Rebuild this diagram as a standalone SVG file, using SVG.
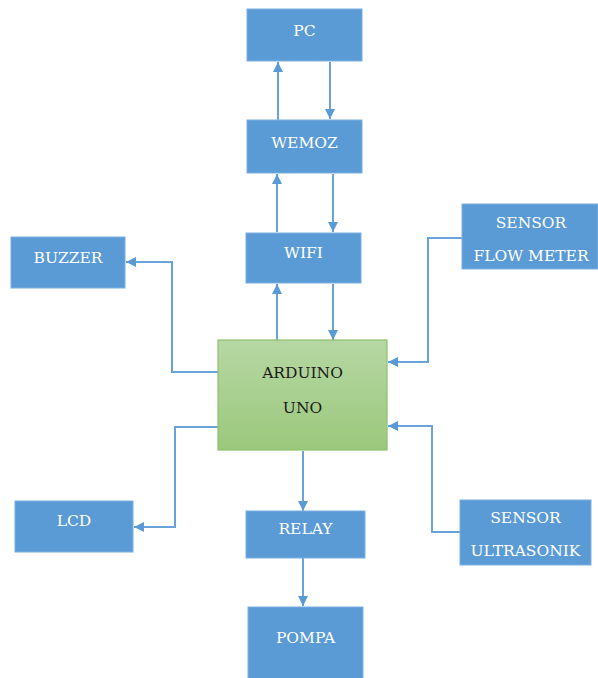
<svg xmlns="http://www.w3.org/2000/svg" width="598" height="678" viewBox="0 0 598 678">
<style>
.box{fill:#5b9bd5;stroke:#7aaee0;stroke-width:1}
text{font-family:'DejaVu Serif',serif;font-size:15.5px;text-anchor:middle}
.t{fill:#ffffff}
.tk{fill:#1a1a1a}
.c{fill:none;stroke:#6aa3da;stroke-width:2}
</style>
<defs>
<linearGradient id="g" x1="0" y1="0" x2="0" y2="1">
<stop offset="0" stop-color="#b6d7a3"/>
<stop offset="1" stop-color="#9bc87c"/>
</linearGradient>
<marker id="a" viewBox="0 0 10 10" refX="10" refY="5" markerWidth="5" markerHeight="5" markerUnits="strokeWidth" orient="auto">
<path d="M0,0 L10,5 L0,10 z" fill="#5b9bd5"/>
</marker>
</defs>
<rect width="598" height="678" fill="#ffffff"/>
<g id="connectors">
<path class="c" marker-end="url(#a)" d="M278,120 V62"/>
<path class="c" marker-end="url(#a)" d="M330,62 V119"/>
<path class="c" marker-end="url(#a)" d="M277,232 V174"/>
<path class="c" marker-end="url(#a)" d="M333,174 V232"/>
<path class="c" marker-end="url(#a)" d="M277,340 V284"/>
<path class="c" marker-end="url(#a)" d="M333,284 V340"/>
<path class="c" marker-end="url(#a)" d="M218,372 H172 V262 H126"/>
<path class="c" marker-end="url(#a)" d="M218,427 H175 V527 H134"/>
<path class="c" marker-end="url(#a)" d="M303,451 V511"/>
<path class="c" marker-end="url(#a)" d="M303,558 V606"/>
<path class="c" marker-end="url(#a)" d="M462,238 H428 V362 H388"/>
<path class="c" marker-end="url(#a)" d="M460,532 H432 V426 H388"/>
</g>
<g id="pc"><rect class="box" x="247" y="9" width="115" height="52"/><text class="t" x="304.5" y="36">PC</text></g>
<g id="wemoz"><rect class="box" x="247" y="120" width="115" height="53"/><text class="t" x="304.5" y="148">WEMOZ</text></g>
<g id="wifi"><rect class="box" x="246" y="233" width="115" height="50"/><text class="t" x="303.5" y="258">WIFI</text></g>
<g id="buzzer"><rect class="box" x="11" y="237" width="114" height="51"/><text class="t" x="68" y="263">BUZZER</text></g>
<g id="arduino"><rect x="218" y="340" width="169" height="110" fill="url(#g)" stroke="#8cc26c" stroke-width="1.2"/><text class="tk" x="302.5" y="378">ARDUINO</text><text class="tk" x="302.5" y="413">UNO</text></g>
<g id="flowmeter"><rect class="box" x="462" y="204" width="136" height="65"/><text class="t" x="531" y="228">SENSOR</text><text class="t" x="531" y="261">FLOW METER</text></g>
<g id="lcd"><rect class="box" x="15" y="501" width="118" height="51"/><text class="t" x="74" y="526">LCD</text></g>
<g id="relay"><rect class="box" x="246" y="511" width="119" height="47"/><text class="t" x="305.5" y="534">RELAY</text></g>
<g id="ultrasonik"><rect class="box" x="460" y="500" width="131" height="65"/><text class="t" x="525.5" y="523">SENSOR</text><text class="t" x="525.5" y="556">ULTRASONIK</text></g>
<g id="pompa"><rect class="box" x="248" y="607" width="115" height="75"/><text class="t" x="305.5" y="643">POMPA</text></g>
</svg>
